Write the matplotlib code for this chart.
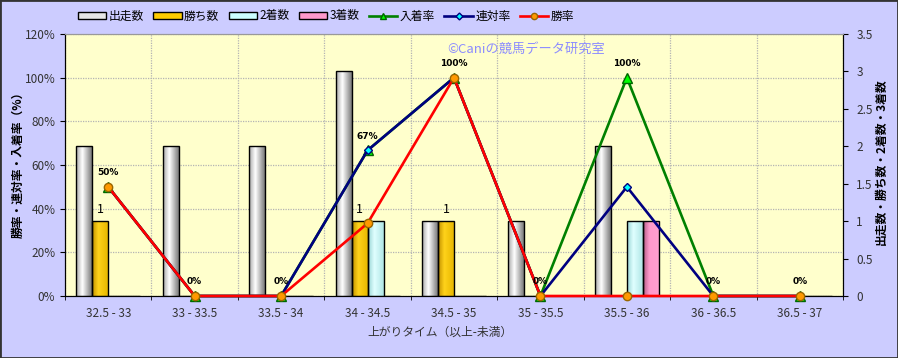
import numpy as np
import matplotlib.pyplot as plt
from matplotlib.colors import LinearSegmentedColormap
from matplotlib.patches import Patch, Rectangle
from matplotlib.lines import Line2D

plt.rcParams['font.family'] = ['Noto Sans CJK JP', 'DejaVu Sans']

# data
categories = ['32.5 - 33', '33 - 33.5', '33.5 - 34', '34 - 34.5', '34.5 - 35',
              '35 - 35.5', '35.5 - 36', '36 - 36.5', '36.5 - 37']
starts = [2, 2, 2, 3, 1, 1, 2, 0, 0]          # 出走数
wins = [1, 0, 0, 1, 1, 0, 0, 0, 0]            # 勝ち数
seconds = [0, 0, 0, 1, 0, 0, 1, 0, 0]         # 2着数
thirds = [0, 0, 0, 0, 0, 0, 1, 0, 0]          # 3着数
place_rate = [50, 0, 0, 66.7, 100, 0, 100, 0, 0]     # 入着率
quinella_rate = [50, 0, 0, 66.7, 100, 0, 50, 0, 0]   # 連対率
win_rate = [50, 0, 0, 33.3, 100, 0, 0, 0, 0]         # 勝率

x = np.arange(len(categories))
bw = 0.185

fig = plt.figure(figsize=(8.98, 3.58), dpi=100, facecolor='#CCCCFF')
fig.subplots_adjust(left=65/898, right=843/898, top=1-34/358, bottom=1-296/358)
ax = fig.add_subplot(111)          # percent axis, grid + background
ax.set_facecolor('#FFFFCC')
ax2 = ax.twinx()                   # counts (bars)
ax3 = ax.twinx()                   # percent (lines), hidden, on top

ax.set_ylim(0, 120)
ax.set_yticks(np.arange(0, 121, 20))
ax.set_yticklabels([f'{v}%' for v in range(0, 121, 20)])
ax.set_xlim(-0.5, len(categories) - 0.5)
ax.set_xticks(x)
ax.set_xticklabels(categories)
ax.set_xticks(np.arange(-0.5, len(categories)), minor=True)
ax.tick_params(axis='x', which='major', length=0, pad=8)
ax.tick_params(axis='x', which='minor', length=3)
ax.tick_params(axis='both', labelsize=8.5, labelcolor='#333333')
ax.grid(axis='y', color='#b4b4b4', linestyle=(0, (1, 1)), linewidth=0.9)
ax.grid(axis='x', which='minor', color='#b4b4b4', linestyle=(0, (1, 1)), linewidth=0.9)
ax.set_axisbelow(True)

ax2.set_ylim(0, 3.5)
ax2.set_yticks(np.arange(0, 3.51, 0.5))
ax2.set_yticklabels(['0', '0.5', '1', '1.5', '2', '2.5', '3', '3.5'])
ax2.tick_params(axis='y', labelsize=8.5, labelcolor='#333333', pad=6)

for a in (ax, ax2):
    a.spines['top'].set_color('#999999')
    a.spines['left'].set_color('black')
    a.spines['right'].set_color('black')
    a.spines['bottom'].set_color('black')
ax3.set_ylim(0, 120)
ax3.axis('off')


def shaded_bars(axis, xs, vals, colors):
    cmap = LinearSegmentedColormap.from_list('g', list(zip([0, 0.4, 1], colors)))
    grad = np.linspace(0, 1, 64).reshape(1, -1)
    bars = axis.bar(xs, vals, bw, facecolor='none', edgecolor='black', linewidth=1, zorder=3)
    for p in bars:
        if p.get_height() <= 0:
            continue
        x0 = p.get_x()
        im = axis.imshow(grad, cmap=cmap, aspect='auto', zorder=2,
                         extent=[x0, x0 + p.get_width(), 0, p.get_height()])
        im.set_clip_path(p)
    return bars


shaded_bars(ax2, x - 1.5 * bw, starts, ['#a8a8a8', '#ffffff', '#7a7a7a'])
shaded_bars(ax2, x - 0.5 * bw, wins, ['#c29200', '#ffd21a', '#e8b800'])
shaded_bars(ax2, x + 0.5 * bw, seconds, ['#99d6d6', '#e0ffff', '#b0e6e6'])
shaded_bars(ax2, x + 1.5 * bw, thirds, ['#b35c85', '#ff99cc', '#ff9fcf'])
ax2.set_xlim(-0.5, len(categories) - 0.5)
ax2.set_ylim(0, 3.5)

for i, v in enumerate(wins):
    if v > 0:
        ax2.annotate(str(v), (x[i] - 0.5 * bw, v), xytext=(0, 4), textcoords='offset points',
                     ha='center', va='bottom', fontsize=9, color='black')

# lines
ax3.plot(x, place_rate, color='#008000', lw=1.9, marker='^', ms=6.5,
         mfc='#00FF00', mec='#006600', zorder=4, clip_on=False)
ax3.plot(x, quinella_rate, color='#000080', lw=1.9, marker='D', ms=4.5,
         mfc='#00FFFF', mec='#000080', zorder=5, clip_on=False)
ax3.plot(x, win_rate, color='#FF0000', lw=1.9, marker='o', ms=6,
         mfc='#FF9900', mec='#996600', zorder=6, clip_on=False)
ax3.set_xlim(-0.5, len(categories) - 0.5)
ax3.set_ylim(0, 120)

for i, v in enumerate(place_rate):
    ax3.annotate(f'{v:.0f}%', (x[i], v), xytext=(0, 7), textcoords='offset points',
                 ha='center', va='bottom', fontsize=6.5, fontweight='bold',
                 family='DejaVu Sans', zorder=7)

ax.text(0.491, 0.94, '©Caniの競馬データ研究室', transform=ax.transAxes,
        fontsize=9.5, color='#8C8CFF', va='center', ha='left', zorder=8)

# axis titles
fig.text(18/898, 1-162/358, '勝率・連対率・入着率（%）', rotation=90, ha='center', va='center',
         fontsize=8.5, fontweight='bold')
fig.text(881/898, 1-162/358, '出走数・勝ち数・2着数・3着数', rotation=90, ha='center', va='center',
         fontsize=8.5, fontweight='bold')
fig.text(440/898, 1-332/358, '上がりタイム（以上-未満）', ha='center', va='center',
         fontsize=8.5, color='#333333')

# legend
handles = [
    Patch(facecolor='#e6e6e6', edgecolor='black', label='出走数'),
    Patch(facecolor='#FFCC00', edgecolor='black', label='勝ち数'),
    Patch(facecolor='#CCFFFF', edgecolor='black', label='2着数'),
    Patch(facecolor='#FF99CC', edgecolor='black', label='3着数'),
    Line2D([], [], color='#008000', lw=1.9, marker='^', ms=5, mfc='#00FF00', mec='#006600', label='入着率'),
    Line2D([], [], color='#000080', lw=1.9, marker='D', ms=3.5, mfc='#00FFFF', mec='#000080', label='連対率'),
    Line2D([], [], color='#FF0000', lw=1.9, marker='o', ms=4.5, mfc='#FF9900', mec='#996600', label='勝率'),
]
fig.legend(handles=handles, loc='center', bbox_to_anchor=(326/898, 1-16/358), ncol=7,
           frameon=False, fontsize=8.5, handlelength=2.4, handleheight=0.5,
           columnspacing=0.8, handletextpad=0.2)

fig.patches.append(Rectangle((0, 0), 1, 1, transform=fig.transFigure, fill=False,
                             edgecolor='#333333', linewidth=2))

fig.savefig('out.png', dpi=100, facecolor=fig.get_facecolor())
